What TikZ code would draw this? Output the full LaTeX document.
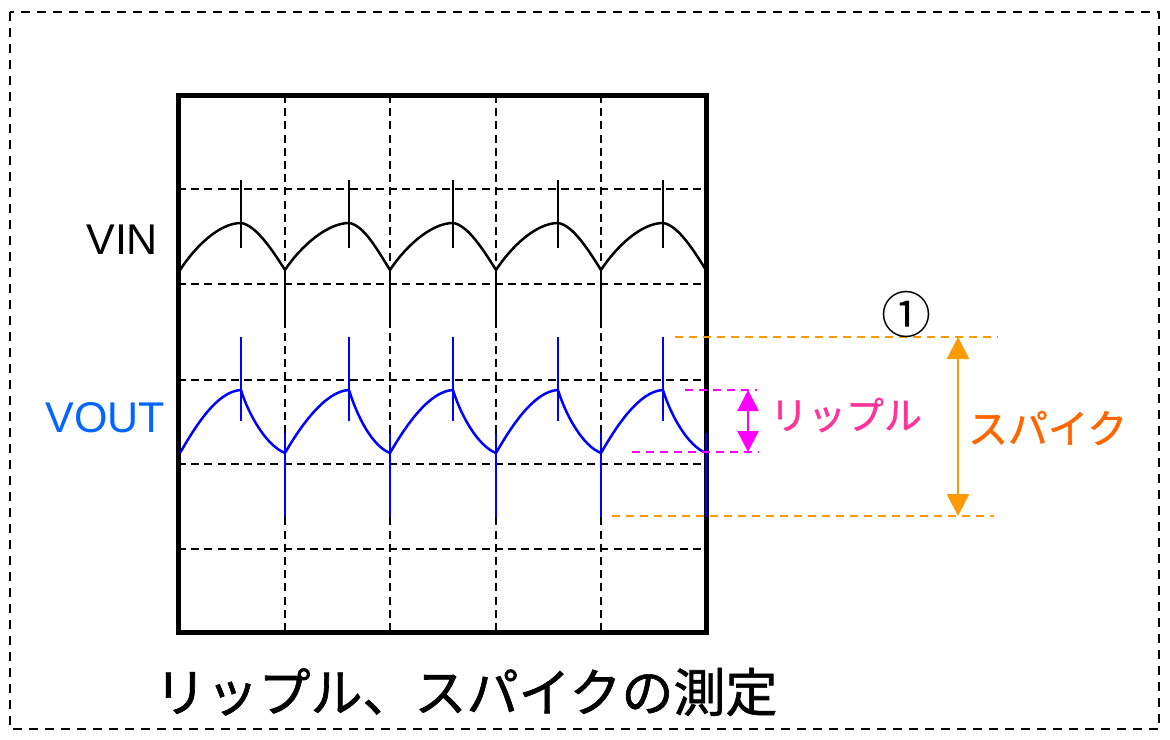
\documentclass[tikz,border=0pt]{standalone}
\usepackage{fontspec}
\setmainfont{Liberation Sans}
\newfontfamily\jpfont[FakeBold=1.2]{Noto Sans CJK JP}
\newfontfamily\markfont{Noto Sans CJK JP}
\usetikzlibrary{arrows.meta}
\definecolor{wireblue}{HTML}{0000FF}
\definecolor{labelblue}{HTML}{0066FF}
\definecolor{spikeline}{HTML}{FF9900}
\definecolor{spiketext}{HTML}{FF6600}
\definecolor{rippleline}{HTML}{FF00FF}
\definecolor{rippletext}{HTML}{FF3399}

\begin{document}
\begin{tikzpicture}[x=0.5pt, y=-0.5pt,
every node/.style = {inner sep=0pt, outer sep=0pt},
grid/.style = {line width=1.2pt, dash pattern=on 4pt off 2.6pt},
frame/.style = {line width=2.5pt},
wave/.style = {line width=1.25pt, line join=round},
spike/.style = {line width=1.25pt},
level/.style = {line width=1.2pt, dash pattern=on 4pt off 3pt},
ripplearrow/.style = {line width=1.2pt, draw=rippleline,
  {Triangle[width=10.5pt,length=10.5pt]}-{Triangle[width=10.5pt,length=10.5pt]}},
spikearrow/.style = {line width=1.2pt, draw=spikeline,
  {Triangle[width=11pt,length=11pt]}-{Triangle[width=11pt,length=11pt]}}
]
\useasboundingbox (0,0) rectangle (1170,739);
\draw[line width=1.2pt, dash pattern=on 4.5pt off 3.5pt] (10,12) rectangle (1159,729);

\foreach \gx in {285,390,496,601}
  \draw[grid] (\gx,95) -- (\gx,632);
\foreach \gy in {189,284,380,464,549}
  \draw[grid] (178,\gy) -- (708,\gy);
\draw[frame] (178,95) rectangle (706,632);

\foreach \t/\p/\n in {180/241/285, 285/349/390, 390/453/496, 496/558/601, 601/663/706} {
  \draw[wave] (\t,270) .. controls (\t+15,247) and (\p-22,223) .. (\p,223)
    .. controls (\p+15,225) and (\n-12,251) .. (\n,270);
  \draw[spike] (\p,180) -- (\p,248);
  \draw[wave, wireblue] (\t,453) .. controls (\t+15,427) and (\p-24,391) .. (\p,390)
    .. controls (\p+8,416) and (\n-18,446) .. (\n,453);
  \draw[spike, wireblue] (\p,337) -- (\p,421);
  \draw[spike, wireblue] (\n,433) -- (\n,517);
}
\foreach \n in {285,390,496,601}
  \draw[spike] (\n,270) -- (\n,328);

\node (vin) [anchor=east, font=\fontsize{21.5}{22}\selectfont] at (158,240) {VIN};
\node (vout) [anchor=east, text=labelblue, font=\fontsize{21.5}{22}\selectfont] at (165,418) {VOUT};

\draw[level, draw=rippleline] (685,390) -- (757,390);
\draw[level, draw=rippleline] (632,452) -- (759,452);
\coordinate (rtop) at (748,390);
\coordinate (rbot) at (748,452);
\draw[ripplearrow] (rtop) -- (rbot);
\node (ripple) [anchor=west, text=rippletext, font=\jpfont\fontsize{19}{20}\selectfont] at (770,415) {リップル};

\draw[level, draw=spikeline] (675,337) -- (998,337);
\draw[level, draw=spikeline] (612,516) -- (994,516);
\coordinate (stop) at (958,337);
\coordinate (sbot) at (958,516);
\draw[spikearrow] (stop) -- (sbot);
\node (spike) [anchor=west, text=spiketext, font=\jpfont\fontsize{20}{21}\selectfont] at (968,428) {スパイク};
\node (mark) [font=\markfont\fontsize{25}{26}\selectfont] at (906,314) {①};

\node (title) [font=\jpfont\fontsize{26}{27}\selectfont] at (466,692) {リップル、スパイクの測定};
\end{tikzpicture}
\end{document}
